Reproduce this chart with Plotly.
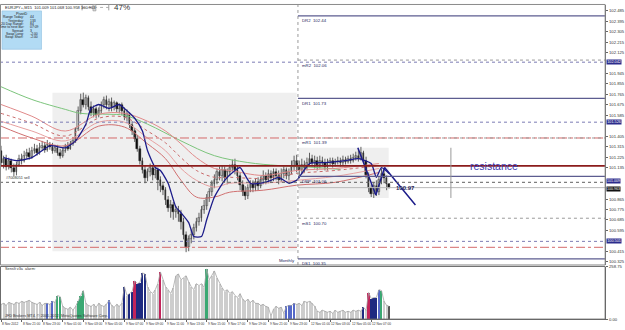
import plotly.graph_objects as go

W, H = 625, 330
def px(x): return x / W
def py(y): return 1 - y / H

FONT = "Arial, Liberation Sans, sans-serif"

# ---------------- candle data (EURJPY M15) ----------------
opens = [101.280,101.179,101.212,101.145,101.196,101.128,101.094,101.162,101.212,101.196,
         101.238,101.263,101.229,101.280,101.297,101.263,101.306,101.323,101.289,101.331,
         101.314,101.280,101.306,101.263,101.238,101.280,101.314,101.297,101.340,101.365,
         101.467,101.619,101.721,101.678,101.738,101.661,101.602,101.636,101.585,101.619,
         101.670,101.721,101.670,101.704,101.653,101.687,101.636,101.670,101.619,101.568,
         101.594,101.500,101.450,101.382,101.297,101.196,101.111,101.043,101.094,101.128,
         101.068,101.111,101.026,100.975,100.941,100.857,100.789,100.814,100.755,100.772,
         100.738,100.670,100.560,100.450,100.518,100.552,100.619,100.670,100.704,100.772,
         100.806,100.874,100.924,100.992,101.026,101.094,101.060,101.111,101.043,101.094,
         101.128,101.162,101.111,101.060,100.984,100.924,100.891,100.958,100.992,100.958,
         101.009,100.975,101.026,101.060,101.026,101.077,101.043,101.094,101.060,101.026,
         101.077,101.111,101.060,101.094,101.145,101.196,101.145,101.111,101.162,101.128,
         101.179,101.212,101.179,101.196,101.162,101.196,101.179,101.145,101.179,101.196,
         101.170,101.187,101.196,101.179,101.204,101.187,101.212,101.196,101.221,101.238,
         101.212,101.263,101.196,101.068,100.958,100.908,100.975,100.924,101.026,101.077,
         101.043,100.992]
highs = [101.323,101.238,101.246,101.221,101.212,101.170,101.187,101.246,101.255,101.280,
         101.297,101.306,101.314,101.340,101.331,101.348,101.365,101.356,101.373,101.356,
         101.348,101.331,101.331,101.297,101.306,101.340,101.356,101.365,101.399,101.484,
         101.661,101.771,101.780,101.763,101.755,101.704,101.670,101.661,101.653,101.704,
         101.746,101.755,101.729,101.738,101.712,101.704,101.687,101.695,101.653,101.636,
         101.611,101.534,101.475,101.416,101.323,101.221,101.153,101.128,101.170,101.153,
         101.145,101.136,101.060,101.001,100.967,100.891,100.857,100.840,100.806,100.806,
         100.772,100.704,100.586,100.552,100.603,100.653,100.704,100.747,100.806,100.857,
         100.908,100.958,101.026,101.077,101.128,101.145,101.153,101.145,101.128,101.162,
         101.204,101.212,101.153,101.094,101.026,100.975,100.992,101.026,101.026,101.043,
         101.052,101.060,101.111,101.094,101.119,101.111,101.128,101.128,101.111,101.128,
         101.145,101.136,101.128,101.196,101.238,101.246,101.196,101.212,101.196,101.221,
         101.263,101.246,101.238,101.229,101.238,101.229,101.212,101.212,101.221,101.221,
         101.212,101.229,101.221,101.238,101.229,101.238,101.246,101.255,101.272,101.297,
         101.314,101.280,101.229,101.094,100.992,101.009,101.026,101.060,101.128,101.111,
         101.068,101.001]
lows = [101.153,101.128,101.111,101.119,101.094,101.060,101.068,101.145,101.162,101.179,
        101.212,101.204,101.212,101.255,101.238,101.246,101.280,101.263,101.272,101.289,
        101.255,101.263,101.238,101.212,101.221,101.263,101.280,101.289,101.323,101.348,
        101.450,101.594,101.653,101.636,101.627,101.577,101.568,101.560,101.568,101.602,
        101.644,101.636,101.619,101.619,101.627,101.611,101.602,101.585,101.543,101.534,
        101.475,101.416,101.356,101.272,101.162,101.085,101.001,101.018,101.060,101.026,
        101.043,100.941,100.924,100.899,100.814,100.755,100.704,100.687,100.704,100.670,
        100.603,100.518,100.408,100.416,100.484,100.518,100.586,100.636,100.670,100.738,
        100.772,100.840,100.891,100.958,100.992,101.026,101.018,101.009,100.992,101.060,
        101.102,101.077,101.026,100.941,100.891,100.857,100.865,100.924,100.924,100.933,
        100.941,100.958,100.992,100.992,101.001,101.009,101.018,101.026,100.992,101.009,
        101.043,101.035,101.026,101.077,101.111,101.094,101.043,101.077,101.094,101.111,
        101.145,101.145,101.128,101.111,101.128,101.145,101.111,101.111,101.153,101.136,
        101.145,101.162,101.145,101.153,101.162,101.170,101.170,101.179,101.196,101.187,
        101.196,101.170,101.043,100.924,100.882,100.874,100.891,100.899,100.992,101.001,
        100.941,100.958]
closes = [101.179,101.212,101.145,101.196,101.128,101.094,101.162,101.212,101.196,101.238,
          101.263,101.229,101.280,101.297,101.263,101.306,101.323,101.289,101.331,101.314,
          101.280,101.306,101.263,101.238,101.280,101.314,101.297,101.340,101.365,101.467,
          101.619,101.721,101.678,101.738,101.661,101.602,101.636,101.585,101.619,101.670,
          101.721,101.670,101.704,101.653,101.687,101.636,101.670,101.619,101.568,101.594,
          101.500,101.450,101.382,101.297,101.196,101.111,101.043,101.094,101.128,101.068,
          101.111,101.026,100.975,100.941,100.857,100.789,100.814,100.755,100.772,100.738,
          100.670,100.560,100.450,100.518,100.552,100.619,100.670,100.704,100.772,100.806,
          100.874,100.924,100.992,101.026,101.094,101.060,101.111,101.043,101.094,101.128,
          101.162,101.111,101.060,100.984,100.924,100.891,100.958,100.992,100.958,101.009,
          100.975,101.026,101.060,101.026,101.077,101.043,101.094,101.060,101.026,101.077,
          101.111,101.060,101.094,101.145,101.196,101.145,101.111,101.162,101.128,101.179,
          101.212,101.179,101.196,101.162,101.196,101.179,101.145,101.179,101.196,101.170,
          101.187,101.196,101.179,101.204,101.187,101.212,101.196,101.221,101.238,101.212,
          101.263,101.196,101.068,100.958,100.908,100.975,100.924,101.026,101.077,101.043,
          100.992,100.963]

# ---------------- moving averages (read at key bars) ----------------
band_x = [0, 12, 25, 38, 48, 57, 64, 70, 76, 83, 89, 102, 115, 130, 147]
band1 = [101.678,101.577,101.450,101.594,101.602,101.534,101.450,101.340,101.221,101.128,101.111,101.068,101.111,101.128,101.170]
band2 = [101.602,101.517,101.407,101.560,101.568,101.450,101.348,101.221,101.111,101.052,101.052,101.043,101.085,101.111,101.153]
band3 = [101.534,101.450,101.365,101.526,101.526,101.390,101.280,101.128,101.026,100.967,101.001,101.001,101.026,101.060,101.128]
band4 = [101.492,101.390,101.323,101.492,101.484,101.340,101.212,101.026,100.882,100.882,100.924,100.941,100.984,101.009,101.094]
green_x = [0, 12, 25, 31, 42, 48, 57, 70, 83, 96, 108, 123, 132]
green_y = [101.831,101.721,101.636,101.602,101.594,101.585,101.509,101.365,101.238,101.179,101.153,101.136,101.119]
navy_x = [1,6,12,19,25,29,33,35,38,42,46,48,52,55,57,60,62,65,68,70,73,75,78,80,83,87,91,93,97,101,105,108,112,115,120,126,134,139,144,146,148,151]
navy_y = [101.221,101.196,101.221,101.323,101.306,101.365,101.509,101.644,101.678,101.644,101.678,101.644,101.560,101.450,101.280,
          101.136,101.111,101.001,100.797,100.747,100.662,100.543,100.543,100.687,100.882,101.026,101.111,101.136,101.001,101.001,
          101.026,101.052,101.001,101.026,101.170,101.179,101.196,101.212,101.170,101.052,101.136,101.085]

# ---------------- indicator panel ----------------
sens = [73,78,68,83,78,73,83,78,88,83,
        88,93,83,78,73,83,68,78,
        78,73,88,83,117,112,
        63,54,49,59,44,63,
        88,117,142,
        78,68,63,73,59,78,68,63,73,
        93,
        68,59,73,63,78,
        161,117,127,137,190,176,181,229,224,
        161,137,127,146,176,
        234,
        195,161,146,127,156,215,224,195,205,
        215,
        185,161,146,176,166,176,156,
        249,
        195,215,239,
        205,176,156,137,146,127,137,117,107,127,98,88,98,83,93,78,
        78,68,73,63,59,15,49,63,54,59,29,
        63,68,68,78,
        73,78,68,88,83,88,78,63,
        39,34,44,39,34,39,29,44,34,39,44,34,39,34,44,39,44,39,
        59,44,132,102,107,107,146,142,88,68,63]
sens_top, sens_bottom = 258.75, 0.0
blue_bars = [18, 20, 42, 111, 112, 113, 114, 147]
navy_bars = [48, 50, 51, 53, 54, 55, 56, 141, 144, 145, 146]
green_bars = [22, 23, 30, 31, 32, 80, 148]
red_bars = [52, 62, 143]
current_bar = [151]

# ---------------- levels ----------------
pivot_names = ["DR2", "mR2", "DR1", "mR1", "DPP", "mS1", "DS1"]
pivot_vals = [102.44, 102.06, 101.73, 101.39, 101.06, 100.70, 100.35]
pivot_solid = [True, False, True, False, True, False, True]
blue_dot_levels = [102.042, 101.526, 100.501]
red_dashdot_levels = [101.39, 100.45]
sell_level = 101.009
resistance_level = 101.15
bid = 100.963
price_ticks = [100.325,100.415,100.595,100.685,100.775,100.865,101.135,
               101.225,101.315,101.405,101.585,101.675,101.765,101.855,101.945,
               102.125,102.215,102.305,102.395,102.485]
tl_x = [138.8, 145.8, 149.2, 161.2]
tl_y = [101.306, 100.899, 101.136, 100.814]
time_idx = [0, 8, 16, 24, 32, 40, 48, 56, 64, 72, 80, 88, 96, 104, 112, 120, 128, 136, 144]
time_lbl = ["8 Nov 2012", "8 Nov 21:00", "8 Nov 23:00", "9 Nov 01:00", "9 Nov 03:00", "9 Nov 05:00",
            "9 Nov 07:00", "9 Nov 09:00", "9 Nov 11:00", "9 Nov 13:00", "9 Nov 15:00", "9 Nov 17:00",
            "9 Nov 19:00", "9 Nov 21:00", "9 Nov 23:00", "12 Nov 01:00", "12 Nov 03:00",
            "12 Nov 05:00", "12 Nov 07:00"]
info_rows = ["Range Today:", "Yesterday:", "20 Day Range:", "Time to next bar:", "Spread:", "Swap Long:", "Swap Short:"]
info_vals = ["44", "133", "84", "07:09", "3", "-2.00", "-2.00"]

n = len(closes)
idx = list(range(n))
day_sep = 115.5
XMAX = 235

fig = go.Figure()

wx, wy = [], []
for i in idx:
    wx += [i, i, None]
    wy += [lows[i], highs[i], None]
fig.add_trace(go.Scatter(x=wx, y=wy, mode="lines", line=dict(color="#3a3a3a", width=0.8),
                         hoverinfo="skip", xaxis="x", yaxis="y"))
up = [i for i in idx if closes[i] >= opens[i]]
dn = [i for i in idx if closes[i] < opens[i]]
fig.add_trace(go.Bar(x=up, y=[max(closes[i] - opens[i], 0.002) for i in up], base=[opens[i] for i in up],
                     width=0.66, marker=dict(color="white", line=dict(color="#505050", width=0.6)),
                     xaxis="x", yaxis="y"))
fig.add_trace(go.Bar(x=dn, y=[opens[i] - closes[i] for i in dn], base=[closes[i] for i in dn],
                     width=0.66, marker=dict(color="black", line=dict(color="black", width=0.4)),
                     xaxis="x", yaxis="y"))

fig.add_trace(go.Scatter(x=green_x, y=green_y, mode="lines", line=dict(color="#7cc47c", width=1, shape="spline"),
                         xaxis="x", yaxis="y"))
for vals, col, dash in [(band1, "#e08a8a", "solid"), (band2, "#c86a6a", "dot"),
                        (band3, "#e6a0a0", "solid"), (band4, "#d07070", "solid")]:
    fig.add_trace(go.Scatter(x=band_x, y=vals, mode="lines",
                             line=dict(color=col, width=1, dash=dash, shape="spline", smoothing=1.0),
                             xaxis="x", yaxis="y"))
fig.add_trace(go.Scatter(x=navy_x, y=navy_y, mode="lines",
                         line=dict(color="#1c1c8a", width=1.3, shape="spline", smoothing=0.55),
                         xaxis="x", yaxis="y"))
fig.add_trace(go.Scatter(x=tl_x, y=tl_y, mode="lines", line=dict(color="#1c1c8a", width=1.5),
                         xaxis="x", yaxis="y"))

cols = ["#cdcdcd"] * n
wids = [0.4] * n
for lst, c in [(blue_bars, "#5468c8"), (navy_bars, "#1e2a80"), (green_bars, "#3aa872"),
               (red_bars, "#c2245a"), (current_bar, "#555555")]:
    for i in lst:
        cols[i] = c
        wids[i] = 0.7
fig.add_trace(go.Bar(x=idx, y=sens, width=wids, marker=dict(color=cols, line=dict(width=0)),
                     xaxis="x2", yaxis="y2"))
fig.add_trace(go.Scatter(x=idx, y=sens, mode="lines", line=dict(color="#a6a6a6", width=0.8),
                         xaxis="x2", yaxis="y2"))

shapes = []
shapes.append(dict(type="rect", xref="x", yref="y", x0=20, x1=115, y0=100.416, y1=101.780,
                   fillcolor="#efefef", line=dict(width=0), layer="below"))
shapes.append(dict(type="rect", xref="x", yref="y", x0=115.8, x1=150.8, y0=100.874, y1=101.306,
                   fillcolor="#efefef", line=dict(width=0), layer="below"))
shapes.append(dict(type="line", xref="x", yref="paper", x0=day_sep, x1=day_sep, y0=py(266), y1=py(2),
                   line=dict(color="#9a9a9a", width=1, dash="dot")))
for v in blue_dot_levels:
    shapes.append(dict(type="line", xref="paper", yref="y", x0=0, x1=px(612), y0=v, y1=v,
                       line=dict(color="#7c7cb4", width=1, dash="dot")))
for v in red_dashdot_levels:
    shapes.append(dict(type="line", xref="paper", yref="y", x0=0, x1=px(612), y0=v, y1=v,
                       line=dict(color="#d46a6a", width=1, dash="dashdot")))
shapes.append(dict(type="line", xref="paper", yref="y", x0=0, x1=px(612), y0=sell_level, y1=sell_level,
                   line=dict(color="#606060", width=1, dash="dot")))
shapes.append(dict(type="line", xref="paper", yref="y", x0=0, x1=px(612), y0=resistance_level, y1=resistance_level,
                   line=dict(color="#8b1c1c", width=1.6)))
shapes.append(dict(type="line", xref="x", yref="y", x0=day_sep, x1=XMAX, y0=bid, y1=bid,
                   line=dict(color="#b8b8b8", width=1)))
for v, s in zip(pivot_vals, pivot_solid):
    shapes.append(dict(type="line", xref="x", yref="y", x0=day_sep, x1=XMAX, y0=v, y1=v,
                       line=dict(color="#5c5c90" if s else "#9a9a9a", width=1.3 if s else 1,
                                 dash="solid" if s else "dot")))
shapes.append(dict(type="line", xref="x", yref="y", x0=175, x1=175, y0=100.874, y1=101.306,
                   line=dict(color="#9a9a9a", width=1)))
shapes.append(dict(type="rect", xref="paper", yref="paper", x0=px(0.5), x1=px(612), y0=py(266), y1=py(1.5),
                   line=dict(color="#8a8a8a", width=1)))
shapes.append(dict(type="rect", xref="paper", yref="paper", x0=px(0.5), x1=px(612), y0=py(321), y1=py(267.5),
                   line=dict(color="#6a6a6a", width=1)))
shapes.append(dict(type="rect", xref="paper", yref="paper", x0=px(2), x1=px(42), y0=py(47), y1=py(8),
                   fillcolor="#b2dbf4", line=dict(color="#8fbfe0", width=0.6)))
shapes.append(dict(type="line", xref="paper", yref="paper", x0=px(83), x1=px(110), y0=py(4.5), y1=py(4.5),
                   line=dict(color="#b0b0b0", width=1, dash="dot")))
for sx in [83, 110]:
    shapes.append(dict(type="line", xref="paper", yref="paper", x0=px(sx), x1=px(sx), y0=py(1.5), y1=py(7.5),
                       line=dict(color="#a0a0a0", width=1)))
shapes.append(dict(type="rect", xref="paper", yref="paper", x0=px(94), x1=px(97), y0=py(8), y1=py(1.5),
                   fillcolor="#d8d8d8", line=dict(color="#909090", width=0.6)))

ann = []
def t(x, y, text, size=4.2, color="#222", xanchor="left", yanchor="middle", xref="paper", yref="paper", **kw):
    ann.append(dict(x=x, y=y, text=text, xref=xref, yref=yref, xanchor=xanchor, yanchor=yanchor,
                    showarrow=False, font=dict(family=FONT, size=size, color=color), **kw))

t(px(3), py(4.2), "EURJPY+,M15  101.009 101.068 100.958 100.963", size=4)
t(px(113), py(5), "47%", size=8, color="#333")
t(px(22), py(10.8), "PivotD", size=3.8, xanchor="center")
for k, (r, v) in enumerate(zip(info_rows, info_vals)):
    yy = py(14.5 + 3.4 * k)
    t(px(26.5), yy, r, size=3.4, xanchor="right")
    t(px(28.5), yy, v, size=3.4)
for name, v in zip(pivot_names, pivot_vals):
    t(116.2, v, f"{name}  {v:.2f}", size=4.3, color="#26265e", xref="x", yref="y", yanchor="top", yshift=-0.5)
t(115, 100.335, "Monthly", size=4.3, color="#26265e", xanchor="right", xref="x", yref="y")
t(1, sell_level, "#7008051 sell", size=3.8, color="#333", xref="x", yref="y", yanchor="bottom", yshift=0.5)
t(157.3, 100.958, "<b>100.97</b>", size=6, color="#1c1c5a", xanchor="center", xref="x", yref="y")
t(191.9, resistance_level, "resistance", size=10.5, color="#3b3bb0", xanchor="center", xref="x", yref="y")
t(px(3), py(270.5), "SensIt v3a  alarm:", size=3.8, color="#333")
t(px(3), py(317.5), "JFD Brokers MT4, © 2001-2012, MetaQuotes Software Corp.", size=3.8, color="#333")
for i, lb in zip(time_idx, time_lbl):
    t(i - 0.3, py(325.8), lb, size=3.2, color="#333", xref="x2")
for v in blue_dot_levels:
    t(px(613), v, f"{v:.3f}", size=3.8, color="white", xref="paper", yref="y", bgcolor="#2b2b8c", borderpad=0.2)
t(px(613), sell_level, f"{sell_level:.3f}", size=3.6, color="white", xref="paper", yref="y",
  bgcolor="#2b2b8c", borderpad=0, yshift=1)
t(px(613), bid, f"{bid:.3f}", size=3.6, color="white", xref="paper", yref="y", bgcolor="#111111",
  borderpad=0, yshift=-1)

axis_common = dict(showgrid=False, zeroline=False, fixedrange=True)
fig.update_layout(
    width=W, height=H, margin=dict(l=0, r=0, t=0, b=0),
    paper_bgcolor="white", plot_bgcolor="white", barmode="overlay", bargap=0,
    showlegend=False, shapes=shapes, annotations=ann,
    xaxis=dict(domain=[0, px(612)], range=[-0.4, XMAX], showticklabels=False, anchor="y", **axis_common),
    yaxis=dict(domain=[py(266), py(2)], range=[100.298, 102.534], side="right", anchor="x",
               tickmode="array", tickvals=price_ticks, ticktext=[f"{v:.3f}" for v in price_ticks],
               tickfont=dict(family=FONT, size=4.2, color="#333"), ticks="outside", ticklen=2,
               tickcolor="#666", showline=True, linecolor="#666", linewidth=1, **axis_common),
    xaxis2=dict(domain=[0, px(612)], range=[-0.4, XMAX], matches="x", anchor="y2", showticklabels=False,
                ticks="outside", tickmode="array", tickvals=time_idx, ticklen=2, tickcolor="#666",
                showline=True, linecolor="#666", linewidth=1, **axis_common),
    yaxis2=dict(domain=[py(321), py(268)], range=[sens_bottom, sens_top], side="right", anchor="x2",
                tickmode="array", tickvals=[sens_bottom, sens_top], ticktext=["0.00", "258.75"],
                tickfont=dict(family=FONT, size=4.2, color="#333"), ticks="outside", ticklen=2,
                tickcolor="#666", showline=True, linecolor="#666", linewidth=1, **axis_common),
)

fig.write_html("out.html")
